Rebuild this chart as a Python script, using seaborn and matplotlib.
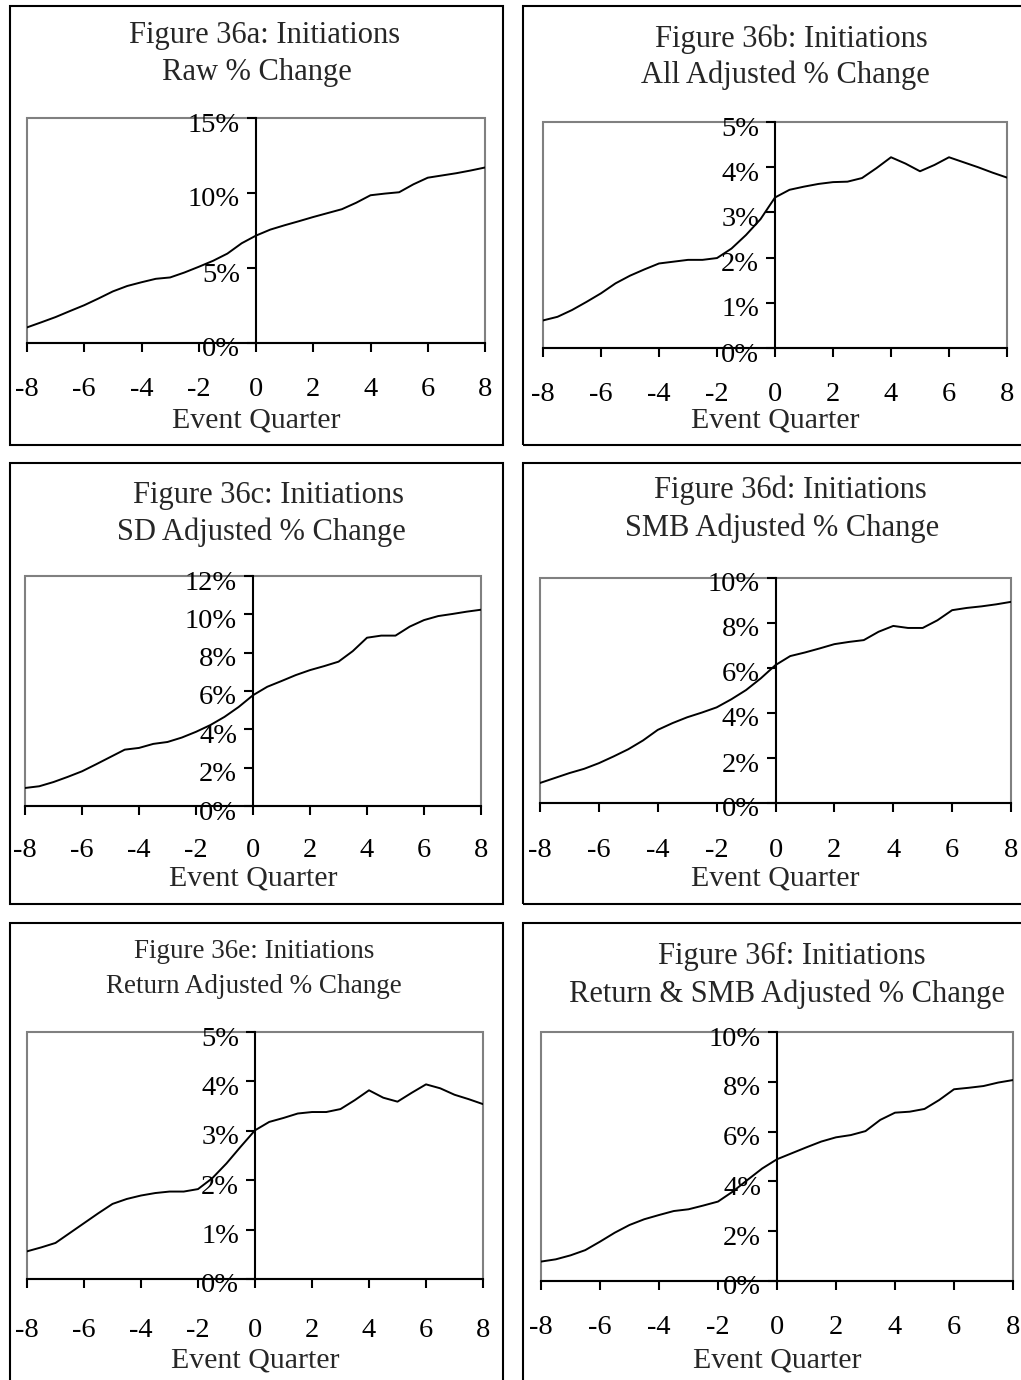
import numpy as np
import pandas as pd
import matplotlib
matplotlib.use("Agg")
import matplotlib.pyplot as plt
import matplotlib.transforms as mtransforms
from matplotlib.patches import Rectangle
from matplotlib.ticker import FixedLocator, FuncFormatter
import seaborn as sns

# Event quarters (half-quarter resolution)
quarters = np.arange(-8, 8.01, 0.5)

# Cumulative % change in initiations around the event quarter
raw_pct = [1.04, 1.38, 1.73, 2.13, 2.52, 2.97, 3.44, 3.80, 4.05, 4.28, 4.37,
           4.70, 5.08, 5.48, 5.96, 6.65, 7.16, 7.56, 7.85, 8.12, 8.40, 8.66,
           8.92, 9.35, 9.85, 9.96, 10.05, 10.58, 11.02, 11.17, 11.32, 11.50, 11.70]
all_adj = [0.61, 0.69, 0.84, 1.02, 1.21, 1.43, 1.60, 1.74, 1.87, 1.91, 1.95,
           1.95, 1.99, 2.20, 2.50, 2.85, 3.33, 3.50, 3.57, 3.63, 3.67, 3.68,
           3.76, 3.98, 4.22, 4.08, 3.91, 4.05, 4.22, 4.11, 4.00, 3.88, 3.77]
sd_adj = [0.94, 1.03, 1.25, 1.52, 1.81, 2.18, 2.56, 2.94, 3.03, 3.24, 3.34,
          3.57, 3.87, 4.22, 4.65, 5.17, 5.78, 6.22, 6.52, 6.83, 7.09, 7.30,
          7.53, 8.08, 8.78, 8.89, 8.89, 9.36, 9.70, 9.91, 10.02, 10.14, 10.24]
smb_adj = [0.89, 1.11, 1.33, 1.52, 1.77, 2.07, 2.39, 2.78, 3.25, 3.55, 3.81,
           4.02, 4.25, 4.61, 5.02, 5.54, 6.13, 6.53, 6.69, 6.87, 7.06, 7.16,
           7.24, 7.61, 7.87, 7.78, 7.78, 8.12, 8.57, 8.67, 8.74, 8.83, 8.94]
ret_adj = [0.56, 0.64, 0.73, 0.93, 1.13, 1.33, 1.52, 1.62, 1.69, 1.74, 1.77,
           1.77, 1.82, 2.04, 2.34, 2.68, 3.01, 3.18, 3.26, 3.35, 3.38, 3.38,
           3.44, 3.62, 3.82, 3.67, 3.59, 3.77, 3.94, 3.86, 3.73, 3.64, 3.54]
ret_smb_adj = [0.78, 0.87, 1.03, 1.24, 1.58, 1.94, 2.25, 2.48, 2.65, 2.81, 2.88,
               3.03, 3.19, 3.59, 4.06, 4.52, 4.89, 5.13, 5.37, 5.60, 5.77, 5.86,
               6.02, 6.47, 6.76, 6.80, 6.91, 7.27, 7.70, 7.76, 7.83, 7.97, 8.07]

titles = [
    ("Figure 36a: Initiations", "Raw % Change"),
    ("Figure 36b: Initiations", "All Adjusted % Change"),
    ("Figure 36c: Initiations", "SD Adjusted % Change"),
    ("Figure 36d: Initiations", "SMB Adjusted % Change"),
    ("Figure 36e: Initiations", "Return Adjusted % Change"),
    ("Figure 36f: Initiations", "Return & SMB Adjusted % Change"),
]
series = [raw_pct, all_adj, sd_adj, smb_adj, ret_adj, ret_smb_adj]
y_max = [15, 5, 12, 10, 5, 10]
y_step = [5, 1, 2, 2, 1, 2]
x_ticks = [-8, -6, -4, -2, 0, 2, 4, 6, 8]

sns.set_style("white")
plt.rcParams["font.family"] = ["Liberation Serif", "DejaVu Serif"]

W, H = 1021, 1380
fig = plt.figure(figsize=(W / 100, H / 100), dpi=100)
fig.patch.set_facecolor("white")

# Layout in pixels
frames = [(9.5, 6, 503, 445), (523, 6, 1030, 445),
          (9.5, 463, 503, 904), (523, 463, 1030, 904),
          (9.5, 923, 503, 1390), (523, 923, 1030, 1390)]
plot_boxes = [(27, 118, 485, 343), (543, 122, 1007, 348),
              (25, 576, 481, 806), (540, 578, 1011, 803),
              (27, 1032, 483, 1279), (541, 1032, 1013, 1281)]
title_pos = [((265, 43), (257, 80)), ((791, 47), (785, 83)),
             ((268, 503), (261, 540)), ((790, 498), (782, 536)),
             ((254, 958), (254, 993)), ((792, 964), (787, 1002))]
title_size = [22, 22, 22, 22, 19.5, 22]
tick_size = 20.5
x_pad = [17.7, 17.7, 16.3, 18.4, 21.3, 17.7]
xlabel_offset = [77, 72, 72, 75, 81, 79]

def fx(px):
    return px / W

def fy(py):
    return 1 - py / H

for i in range(6):
    x0, y0, x1, y1 = frames[i]
    fig.add_artist(Rectangle((fx(x0), fy(y1)), fx(x1) - fx(x0), fy(y0) - fy(y1),
                             transform=fig.transFigure, fill=False,
                             edgecolor="black", linewidth=1.5))

    (t1x, t1y), (t2x, t2y) = title_pos[i]
    fig.text(fx(t1x), fy(t1y), titles[i][0], ha="center", va="baseline",
             fontsize=title_size[i])
    fig.text(fx(t2x), fy(t2y), titles[i][1], ha="center", va="baseline",
             fontsize=title_size[i])

    l, t, r, b = plot_boxes[i]
    ax = fig.add_axes([fx(l), fy(b), fx(r) - fx(l), fy(t) - fy(b)])
    ax.set_facecolor("white")

    df = pd.DataFrame({"quarter": quarters, "change": series[i]})
    sns.lineplot(data=df, x="quarter", y="change", ax=ax, color="black",
                 linewidth=1.4)

    ax.set_xlim(-8, 8)
    ax.set_ylim(0, y_max[i])

    ax.add_patch(Rectangle((0, 0), 1, 1, transform=ax.transAxes, fill=False,
                           edgecolor="#808080", linewidth=1.5, clip_on=False,
                           zorder=0.5))
    for s in ("top", "right"):
        ax.spines[s].set_visible(False)
    ax.spines["left"].set_position(("data", 0))
    ax.spines["left"].set_color("black")
    ax.spines["left"].set_linewidth(1.5)
    ax.spines["bottom"].set_color("black")
    ax.spines["bottom"].set_linewidth(1.5)

    ax.xaxis.set_major_locator(FixedLocator(x_ticks))
    ax.yaxis.set_major_locator(FixedLocator(np.arange(0, y_max[i] + 0.01, y_step[i])))
    ax.yaxis.set_major_formatter(FuncFormatter(lambda v, p: f"{v:.0f}%"))
    ax.xaxis.set_major_formatter(FuncFormatter(lambda v, p: f"{v:.0f}"))
    ax.tick_params(axis="both", direction="out", length=6.5, width=1.5,
                   color="black", labelsize=tick_size, labelcolor="black")
    ax.tick_params(axis="x", pad=x_pad[i])
    ax.tick_params(axis="y", pad=5)
    ax.tick_params(left=True, bottom=True)

    ax.set_xlabel("Event Quarter", fontsize=21.5)
    ax.set_ylabel("")
    ax.xaxis.set_label_coords(0.5, -xlabel_offset[i] / (b - t))
    ax.xaxis.label.set_va("center")

    fig.canvas.draw()
    shift = mtransforms.ScaledTranslation(0, -4 / 100, fig.dpi_scale_trans)
    for lab in ax.get_yticklabels():
        lab.set_transform(lab.get_transform() + shift)

fig.savefig("out.png", dpi=100, facecolor="white")
